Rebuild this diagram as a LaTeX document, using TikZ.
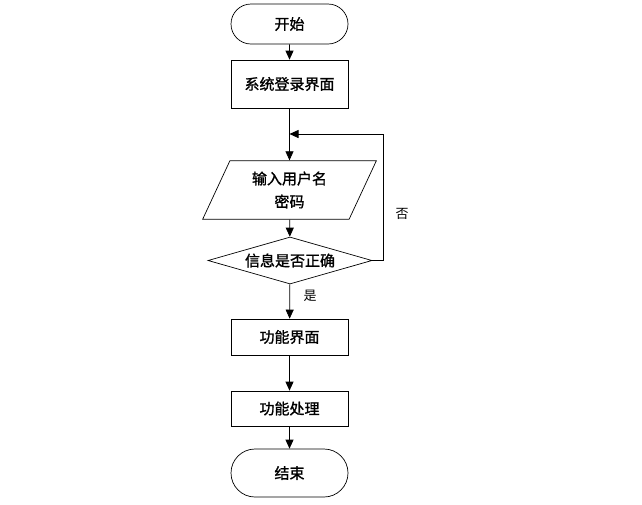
\documentclass[tikz,border=0pt]{standalone}
\usepackage{fontspec}
\newfontfamily\cjk{Noto Sans CJK SC}
\newfontfamily\cjkbold{Noto Sans CJK SC}[FakeBold=1.3]
\usetikzlibrary{shapes.geometric,shapes.misc,arrows.meta}
\begin{document}
\begin{tikzpicture}[x=1pt,y=-1pt,>={Triangle[length=9pt,width=8pt]},
  font=\cjkbold\fontsize{15}{18}\selectfont,line width=0.7pt,
  terminal/.style={draw,rounded rectangle,minimum width=117pt,inner sep=0pt},
  procbox/.style={draw,rectangle,minimum width=117pt,inner sep=0pt},
  iobox/.style={draw,trapezium,trapezium left angle=65,trapezium right angle=115,
    minimum width=174pt,minimum height=46pt,inner sep=0pt,align=center,
    font=\cjkbold\fontsize{15}{23}\selectfont},
  decide/.style={draw,diamond,aspect=3.5,minimum width=164pt,minimum height=47pt,inner sep=1pt},
  lbl/.style={font=\cjk\fontsize{13}{15}\selectfont}]
  \useasboundingbox (0,0) rectangle (642,504);
  \node[terminal,minimum height=40pt] (start) at (289.5,24) {开始};
  \node[procbox,minimum height=48pt] (login) at (289.5,84) {系统登录界面};
  \coordinate (join) at (289.5,134);
  \node[iobox] (input) at (289.5,190) {输入用户名\\密码};
  \node[decide] (check) at (290,260.5) {信息是否正确};
  \node[procbox,minimum height=36pt] (func) at (289.5,337) {功能界面};
  \node[procbox,minimum height=35pt] (proc) at (289.5,408.5) {功能处理};
  \node[terminal,minimum height=48pt] (stop) at (289.5,473) {结束};
  \draw[->] (start) -- (login);
  \draw[->] (login) -- (input);
  \draw[->] (input) -- (check);
  \draw[->] (check.east) -- ++(11,0) |- (join);
  \node[lbl] (no) at (402,214) {否};
  \draw[->] (check) -- (func);
  \node[lbl] (yes) at (310,296) {是};
  \draw[->] (func) -- (proc);
  \draw[->] (proc) -- (stop);
\end{tikzpicture}
\end{document}
